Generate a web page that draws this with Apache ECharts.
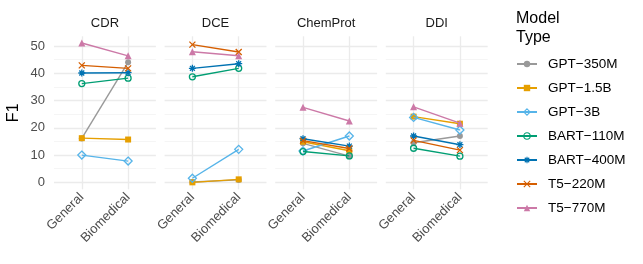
<!DOCTYPE html>
<html><head><meta charset="utf-8">
<script src="https://cdn.jsdelivr.net/npm/echarts@6/dist/echarts.min.js"></script>
<style>html,body{margin:0;padding:0;background:#fff}#c{width:643px;height:264px}</style>
</head><body><div id="c"></div><script>
// ---- data ----
const categories = ['General', 'Biomedical'];
const facets = ['CDR', 'DCE', 'ChemProt', 'DDI'];
const models = ['GPT−350M', 'GPT−1.5B', 'GPT−3B', 'BART−110M', 'BART−400M', 'T5−220M', 'T5−770M'];
// values in model order
const cdrGeneral      = [16.1, 16.2, 10.0, 36.2, 40.1, 42.9, 51.1];
const cdrBiomedical   = [44.0, 15.7,  7.8, 38.2, 40.2, 41.8, 46.4];
const dceGeneral      = [ 0.1,  0.0,  1.5, 38.7, 41.8, 50.5, 47.9];
const dceBiomedical   = [ 0.9,  1.1, 12.1, 41.8, 43.5, 47.8, 46.4];
const chemGeneral     = [14.3, 14.9, 11.5, 11.3, 16.0, 15.3, 27.5];
const chemBiomedical  = [ 9.6, 11.6, 17.0,  9.7, 13.3, 12.4, 22.5];
const ddiGeneral      = [14.5, 24.1, 23.8, 12.5, 17.0, 15.4, 27.7];
const ddiBiomedical   = [17.0, 21.5, 19.2,  9.6, 13.8, 11.8, 21.7];
const yTicks = [0, 10, 20, 30, 40, 50];
const yMinorTicks = [5, 15, 25, 35, 45];

const facetData = [
  [cdrGeneral, cdrBiomedical],
  [dceGeneral, dceBiomedical],
  [chemGeneral, chemBiomedical],
  [ddiGeneral, ddiBiomedical]
];

// ---- styles ----
const colors = ['#999999', '#E69F00', '#56B4E9', '#009E73', '#0072B2', '#D55E00', '#CC79A7'];
const clear = 'rgba(255,255,255,0)';
const symbolDefs = [
  { symbol: 'circle', size: 6, filled: true },
  { symbol: 'rect', size: 6, filled: true },
  { symbol: 'diamond', size: 8, filled: false },
  { symbol: 'circle', size: 6, filled: false },
  { symbol: 'path://M5,0L5,10M0,5L10,5M1.5,1.5L8.5,8.5M8.5,1.5L1.5,8.5', size: 7, filled: false },
  { symbol: 'path://M0,0L10,10M10,0L0,10', size: 6, filled: false },
  { symbol: 'triangle', size: 7, filled: true }
];
const FONT = '"Liberation Sans", Arial, sans-serif';
const gridTop = 36.3, gridH = 153, gridW = 101.9, gridL0 = 54, gridStep = 110.6;
const yMin = -2.55, yMax = 53.55;

function itemStyleFor(j, bw) {
  return symbolDefs[j].filled
    ? { color: colors[j], borderWidth: 0 }
    : { color: clear, borderColor: colors[j], borderWidth: bw };
}

const grids = [], xAxes = [], yAxes = [], series = [], graphics = [];
facets.forEach((f, i) => {
  const left = gridL0 + i * gridStep;
  grids.push({ left: left, top: gridTop, width: gridW, height: gridH, containLabel: false });
  xAxes.push({
    type: 'value', gridIndex: i, min: -0.6, max: 1.6,
    axisLine: { show: false },
    axisTick: { show: false, customValues: [0, 1] },
    axisLabel: {
      customValues: [0, 1], formatter: v => categories[Math.round(v)] || '',
      rotate: 45, fontSize: 13, color: '#4d4d4d', fontFamily: FONT, margin: 6
    },
    splitLine: { show: true, lineStyle: { color: '#ebebeb', width: 1.3 } }
  });
  yAxes.push({
    type: 'value', gridIndex: i, min: yMin, max: yMax,
    axisLine: { show: false },
    axisTick: { show: false, customValues: yTicks },
    axisLabel: { show: i === 0, customValues: yTicks, fontSize: 13, color: '#4d4d4d', fontFamily: FONT, margin: 9 },
    splitLine: { show: true, lineStyle: { color: '#ebebeb', width: 1.3 } },
    name: i === 0 ? 'F1' : '', nameLocation: 'middle', nameGap: 32, nameRotate: 90,
    nameTextStyle: { fontSize: 16, color: '#000', fontFamily: FONT }
  });
  yAxes.push({
    type: 'value', gridIndex: i, min: yMin, max: yMax,
    axisLine: { show: false },
    axisTick: { show: false, customValues: yMinorTicks },
    axisLabel: { show: false },
    splitLine: { show: true, lineStyle: { color: '#f3f3f3', width: 0.8 } }
  });
  const [gen, bio] = facetData[i];
  models.forEach((m, j) => {
    const sd = symbolDefs[j];
    series.push({
      type: 'line', name: m, xAxisIndex: i, yAxisIndex: 2 * i,
      data: [[0, gen[j]], [1, bio[j]]],
      symbol: sd.symbol, symbolSize: sd.size, showAllSymbol: true,
      lineStyle: { color: colors[j], width: 1.4 },
      itemStyle: itemStyleFor(j, 1.3),
      color: colors[j],
      emphasis: { disabled: true },
      z: 2 + j
    });
  });
  graphics.push({
    type: 'text', x: left + gridW / 2, y: 23,
    style: { text: f, fontSize: 13, fill: '#1a1a1a', fontFamily: FONT, textAlign: 'center', textVerticalAlign: 'middle' }
  });
});
graphics.push({
  type: 'text', x: 516, y: 9,
  style: { text: 'Model\nType', fontSize: 16, lineHeight: 19, fill: '#000', fontFamily: FONT, textAlign: 'left', textVerticalAlign: 'top' }
});

const chart = echarts.init(document.getElementById('c'), null, { renderer: 'canvas' });
chart.setOption({
  animation: false,
  backgroundColor: '#fff',
  grid: grids, xAxis: xAxes, yAxis: yAxes, series: series,
  graphic: graphics,
  legend: {
    data: models.map((m, j) => ({ name: m, itemStyle: itemStyleFor(j, 1.1) })),
    orient: 'vertical', left: 516, top: 57, padding: 0,
    itemWidth: 20, itemHeight: 8, itemGap: 10,
    textStyle: { fontSize: 13.5, color: '#000', fontFamily: FONT, lineHeight: 14, padding: [0, 0, 0, 6] },
    selectedMode: false
  }
});
</script></body></html>
